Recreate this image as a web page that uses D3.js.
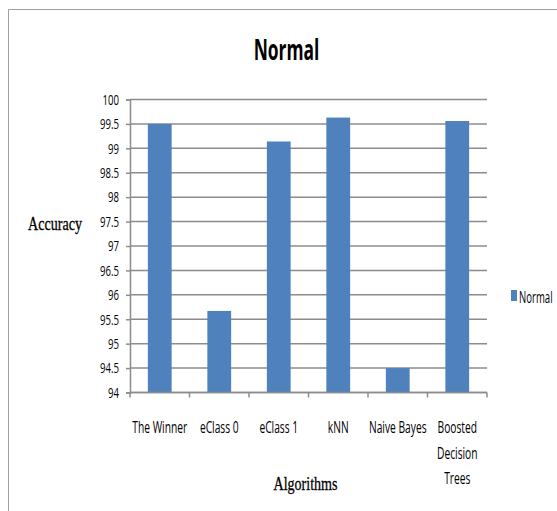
<!DOCTYPE html>
<html>
<head>
<meta charset="utf-8">
<script src="https://cdn.jsdelivr.net/npm/d3@7"></script>
<style>
  body { margin: 0; background: #fff; }
</style>
</head>
<body>
<div id="chart"></div>
<script>
  // data
  var algorithms = ["The Winner", "eClass 0", "eClass 1", "kNN", "Naive Bayes", "Boosted Decision Trees"];
  var accuracy = [99.5, 95.67, 99.14, 99.63, 94.5, 99.56];
  var yTicks = [94, 94.5, 95, 95.5, 96, 96.5, 97, 97.5, 98, 98.5, 99, 99.5, 100];
  var seriesName = "Normal";

  var W = 557, H = 511;
  var BAR = '#4F81BD';
  var GRID = '#8c8c8c';
  var SANS = '"Open Sans", "DejaVu Sans", sans-serif';
  var SERIF = '"Liberation Serif", "DejaVu Serif", serif';
  var SQUISH = 0.64; // the original picture is narrowed horizontally
  var plot = { left: 130, right: 487, top: 99.5, bottom: 392.5 };

  // narrow every text of a selection like the original (scale around its anchor)
  function squeeze(sel, f) {
    sel.each(function () {
      var t = d3.select(this);
      var tx = +t.attr("x") || 0;
      var ty = +t.attr("y") || 0;
      t.attr("x", 0).attr("y", 0)
        .attr("transform", "translate(" + tx + "," + ty + ") scale(" + f + ",1)");
    });
  }

  var svg = d3.select("#chart").append("svg")
    .attr("width", W)
    .attr("height", H);

  // outer frame (only top & left visible)
  svg.append("path")
    .attr("d", "M8.5," + H + "V9.5H" + W)
    .attr("fill", "none")
    .attr("stroke", "#a0a0a0")
    .attr("stroke-width", 1);

  var x = d3.scaleBand()
    .domain(algorithms)
    .range([plot.left, plot.right])
    .padding(0);

  var y = d3.scaleLinear()
    .domain([94, 100])
    .range([plot.bottom, plot.top]);

  // gridlines
  svg.append("g")
    .selectAll("line")
    .data(yTicks)
    .enter().append("line")
    .attr("x1", plot.left)
    .attr("x2", plot.right)
    .attr("y1", function (d) { return y(d); })
    .attr("y2", function (d) { return y(d); })
    .attr("stroke", GRID)
    .attr("stroke-width", 1.5);

  // y axis
  var yAxis = d3.axisLeft(y)
    .tickValues(yTicks)
    .tickFormat(d3.format(""))
    .tickSize(4)
    .tickPadding(7);

  var gy = svg.append("g")
    .attr("transform", "translate(" + plot.left + ",0)")
    .call(yAxis);
  gy.select(".domain").attr("stroke", GRID).attr("stroke-width", 1.5);
  gy.selectAll(".tick line").attr("stroke", GRID).attr("stroke-width", 1.5);
  gy.selectAll(".tick text")
    .attr("font-family", SANS)
    .attr("font-size", "15px")
    .attr("fill", "#000")
    .call(squeeze, 0.64);

  // bars
  var barW = x.bandwidth() * 0.4;
  svg.append("g")
    .selectAll("rect")
    .data(algorithms)
    .enter().append("rect")
    .attr("x", function (d) { return x(d) + (x.bandwidth() - barW) / 2; })
    .attr("width", barW)
    .attr("y", function (d, i) { return y(accuracy[i]); })
    .attr("height", function (d, i) { return plot.bottom - y(accuracy[i]); })
    .attr("fill", BAR);

  // x axis: ticks at band boundaries
  var gx = svg.append("g")
    .attr("transform", "translate(0," + plot.bottom + ")");
  gx.append("line")
    .attr("x1", plot.left).attr("x2", plot.right)
    .attr("stroke", GRID).attr("stroke-width", 1.5);
  gx.selectAll(".bound")
    .data(algorithms.concat([null]))
    .enter().append("line")
    .attr("class", "bound")
    .attr("x1", function (d) { return d === null ? plot.right : x(d); })
    .attr("x2", function (d) { return d === null ? plot.right : x(d); })
    .attr("y1", 0).attr("y2", 5)
    .attr("stroke", GRID).attr("stroke-width", 1.5);

  // category labels (wrapped like the original)
  var labelLines = {
    "Boosted Decision Trees": ["Boosted", "Decision", "Trees"]
  };
  var lineData = [];
  algorithms.forEach(function (d) {
    (labelLines[d] || [d]).forEach(function (s, k) {
      lineData.push({ cat: d, text: s, row: k });
    });
  });
  svg.append("g")
    .selectAll("text")
    .data(lineData)
    .enter().append("text")
    .attr("x", function (d) { return x(d.cat) + x.bandwidth() / 2; })
    .attr("y", function (d) { return 433 + d.row * 25.5; })
    .attr("text-anchor", "middle")
    .attr("font-family", SANS)
    .attr("font-size", "16px")
    .attr("fill", "#000")
    .text(function (d) { return d.text; })
    .call(squeeze, SQUISH);

  // title
  svg.append("text")
    .attr("x", 286.5)
    .attr("y", 60)
    .attr("text-anchor", "middle")
    .attr("font-family", SANS)
    .attr("font-weight", "bold")
    .attr("font-size", "29px")
    .text("Normal")
    .call(squeeze, 0.6);

  // axis titles
  svg.append("text")
    .attr("x", 55)
    .attr("y", 230)
    .attr("text-anchor", "middle")
    .attr("font-family", SERIF)
    .attr("font-size", "19px")
    .attr("stroke", "#000")
    .attr("stroke-width", 0.3)
    .text("Accuracy")
    .call(squeeze, 0.74);

  svg.append("text")
    .attr("x", 305.5)
    .attr("y", 490)
    .attr("text-anchor", "middle")
    .attr("font-family", SERIF)
    .attr("font-size", "19px")
    .attr("stroke", "#000")
    .attr("stroke-width", 0.3)
    .text("Algorithms")
    .call(squeeze, 0.74);

  // legend
  var leg = svg.append("g").attr("transform", "translate(511,290)");
  leg.append("rect")
    .attr("width", 6).attr("height", 11)
    .attr("fill", BAR);
  leg.append("text")
    .attr("x", 8)
    .attr("y", 12.5)
    .attr("font-family", SANS)
    .attr("font-size", "16px")
    .attr("fill", "#000")
    .text(seriesName)
    .call(squeeze, 0.6);
</script>
</body>
</html>
